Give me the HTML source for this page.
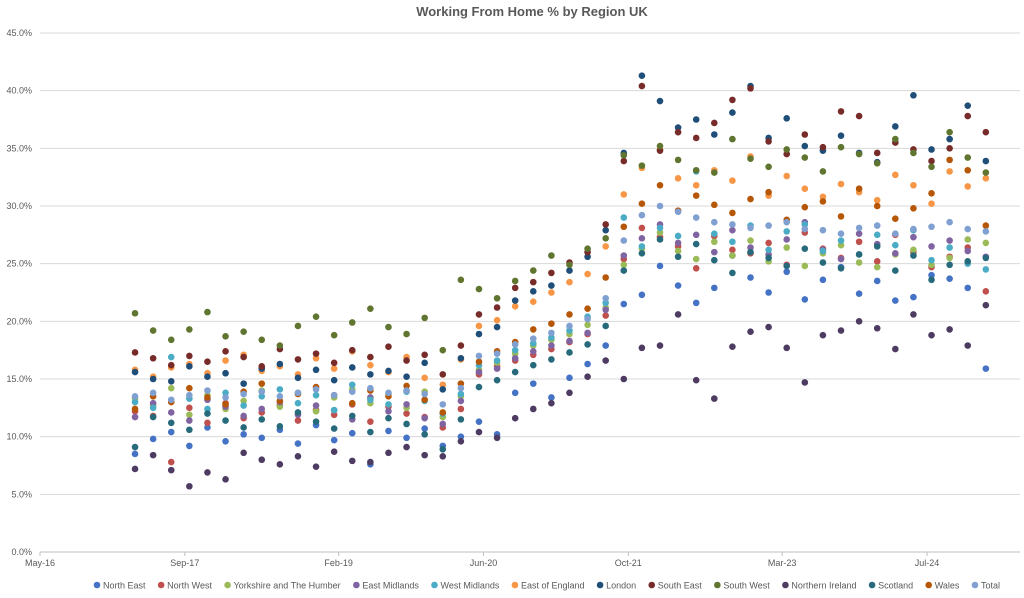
<!DOCTYPE html>
<html><head><meta charset="utf-8"><style>
body{margin:0;background:#fff;font-family:"Liberation Sans",sans-serif;}
svg text{font-family:"Liberation Sans",sans-serif;}
</style></head><body>
<svg id="chart" width="1024" height="593" xmlns="http://www.w3.org/2000/svg">
<text x="532" y="16" text-anchor="middle" font-size="13" font-weight="bold" fill="#595959">Working From Home % by Region UK</text>
<g id="grid"></g>
<g id="yaxis"></g>
<g id="xaxis"></g>
<g id="marks"></g>
<g id="legend"></g>
</svg>
<script>
const yTicks=[0,5,10,15,20,25,30,35,40,45];
const xTickLabels=["May-16","Sep-17","Feb-19","Jun-20","Oct-21","Mar-23","Jul-24"];
const xTickMonths=[0,16,33,49,65,82,98];
const startMonth=10.5, stepMonths=2;
const seriesNames=["North East","North West","Yorkshire and The Humber","East Midlands","West Midlands","East of England","London","South East","South West","Northern Ireland","Scotland","Wales","Total"];
const seriesColors=["#4472C4","#C0504D","#9BBB59","#8064A2","#4BACC6","#F79646","#1F4E79","#772C2A","#5F7530","#4D3B62","#276A7C","#B65708","#7FA0D0"];
const northEast=[8.5,9.8,10.4,9.2,10.8,9.6,10.2,9.9,10.6,9.4,11.0,9.7,10.3,7.6,10.5,9.9,10.7,9.2,10.0,11.3,10.2,13.8,14.6,13.4,15.1,16.3,17.9,21.5,22.3,24.8,23.1,21.6,22.9,25.7,23.8,22.5,24.3,21.9,23.6,24.7,22.4,23.5,21.8,22.1,24.0,23.7,22.9,15.9];
const northWest=[12.2,11.8,7.8,12.5,11.2,12.9,11.6,12.1,12.7,11.4,12.3,11.9,12.8,11.3,12.6,12.0,11.7,10.8,12.4,15.4,16.1,16.6,17.1,17.6,18.2,18.9,20.5,25.4,28.1,27.3,26.5,24.6,27.4,26.2,25.9,26.8,24.9,27.7,26.3,25.5,26.9,25.2,27.5,26.0,24.7,25.6,26.4,22.6];
const yorkshire=[13.3,12.7,14.2,11.9,13.6,12.4,13.1,14.0,12.6,13.8,12.2,13.4,14.1,12.9,13.7,12.5,13.9,11.7,13.5,15.8,16.4,17.2,17.9,18.4,18.9,19.7,21.2,24.9,26.3,27.7,26.1,25.4,26.9,25.7,27.0,25.2,26.4,24.8,25.9,26.6,25.1,24.7,25.8,26.2,24.9,25.5,27.1,26.8];
const eastMidlands=[11.7,12.9,12.1,11.4,13.2,12.6,11.8,12.4,13.0,11.9,12.7,12.3,11.5,13.4,12.2,12.8,11.6,11.1,13.1,15.6,15.9,16.8,17.4,17.9,18.3,19.0,21.0,25.7,27.2,28.4,26.8,27.5,26.0,27.9,26.4,25.8,27.1,28.6,26.2,25.4,27.6,26.7,25.9,27.3,26.5,27.0,26.1,25.6];
const westMidlands=[13.0,12.5,16.9,13.3,12.4,13.8,12.7,13.5,14.1,12.9,13.6,12.3,14.5,13.2,12.8,13.9,13.1,12.0,13.7,16.2,16.6,17.5,18.1,18.6,19.2,20.4,21.6,29.0,26.5,28.1,27.4,33.0,27.6,26.9,28.3,26.2,27.8,28.4,26.1,27.0,25.8,27.5,26.6,27.9,25.3,26.4,25.0,24.5];
const eastOfEngland=[15.8,15.2,16.0,16.3,15.5,16.6,17.1,15.7,16.1,15.4,16.8,15.9,17.4,16.2,15.6,16.9,15.1,14.5,16.7,19.6,20.1,21.3,21.7,22.5,23.4,24.1,26.5,31.0,33.3,34.9,32.4,31.8,33.1,32.2,34.3,30.9,32.6,31.5,30.8,31.9,31.2,30.5,32.7,31.8,30.2,33.0,31.7,32.4];
const london=[15.6,15.0,14.8,16.1,15.2,15.5,14.6,15.9,16.3,15.1,15.8,14.9,16.0,15.4,15.7,15.2,16.4,14.1,16.8,18.9,19.5,21.8,22.6,23.1,24.4,25.6,27.9,34.6,41.3,39.1,36.8,37.5,36.2,38.1,40.4,35.9,37.6,35.2,34.8,36.1,34.6,33.8,36.9,39.6,34.9,35.8,38.7,33.9];
const southEast=[17.3,16.8,16.2,17.0,16.5,17.4,16.9,16.1,17.6,16.7,17.2,16.4,17.5,16.9,17.8,16.6,17.1,15.4,17.9,20.6,21.2,22.9,23.4,24.2,25.1,26.0,28.4,33.9,40.4,34.8,36.4,35.9,37.2,39.2,40.2,35.6,34.5,36.2,35.1,38.2,37.8,34.6,35.5,34.9,33.9,35.0,37.8,36.4];
const southWest=[20.7,19.2,18.4,19.3,20.8,18.7,19.1,18.4,17.9,19.6,20.4,18.8,19.9,21.1,19.5,18.9,20.3,17.5,23.6,22.8,22.0,23.5,24.4,25.7,24.9,26.3,27.2,34.4,33.5,35.2,34.0,33.1,32.9,35.8,34.1,33.4,34.9,34.2,33.0,35.1,34.5,33.7,35.8,34.6,33.4,36.4,34.2,32.9];
const northernIreland=[7.2,8.4,7.1,5.7,6.9,6.3,8.6,8.0,7.6,8.3,7.4,8.7,7.9,7.8,8.6,9.1,8.4,8.3,9.6,10.4,9.9,11.6,12.4,12.9,13.8,15.2,16.6,15.0,17.7,17.9,20.6,14.9,13.3,17.8,19.1,19.5,17.7,14.7,18.8,19.2,20.0,19.4,17.6,20.6,18.8,19.3,17.9,21.4];
const scotland=[9.1,11.7,11.2,10.6,12.0,11.4,10.8,11.5,10.9,12.1,11.3,10.7,11.8,10.4,11.6,11.1,10.2,8.9,11.5,14.3,14.9,15.6,16.2,16.7,17.3,18.0,19.6,24.4,25.9,27.1,25.6,26.7,25.3,24.2,26.0,25.5,24.8,26.3,25.1,24.6,25.8,26.5,24.4,25.7,23.6,24.9,25.2,25.5];
const wales=[12.4,13.5,13.0,14.2,13.4,12.8,13.9,14.6,13.1,13.7,14.3,13.6,12.9,14.0,13.5,14.4,13.2,12.1,14.6,16.5,17.4,18.2,19.3,19.8,20.6,21.1,23.8,28.2,30.2,31.8,29.6,30.9,30.1,29.4,30.6,31.2,28.8,29.9,30.4,29.1,31.5,30.0,28.9,29.8,31.1,34.0,33.1,28.3];
const total=[13.5,13.8,13.2,13.6,14.0,13.4,13.7,13.9,13.5,13.8,14.1,13.6,13.9,14.2,13.8,14.0,13.7,12.8,14.2,17.0,17.2,18.0,18.5,19.0,19.6,20.2,22.0,27.0,29.2,30.0,29.5,29.0,28.6,28.4,28.1,28.3,28.6,28.0,27.9,27.6,28.1,28.3,27.6,28.0,28.2,28.6,28.0,27.8];
const seriesValues=[northEast,northWest,yorkshire,eastMidlands,westMidlands,eastOfEngland,london,southEast,southWest,northernIreland,scotland,wales,total];

const NS="http://www.w3.org/2000/svg";
const X0=40,X1=1020,Y0=552,Y1=33;
const xScale=m=>X0+m*(927-40)/98;
const yScale=v=>Y0-(v/45)*(Y0-Y1);
function mk(tag,attrs,parent){const e=document.createElementNS(NS,tag);for(const k in attrs)e.setAttribute(k,attrs[k]);parent.appendChild(e);return e;}
const grid=document.getElementById('grid'),yax=document.getElementById('yaxis'),xax=document.getElementById('xaxis'),marks=document.getElementById('marks'),leg=document.getElementById('legend');
yTicks.forEach(t=>{
  const l=mk('line',{x1:X0,x2:X1,y1:yScale(t),y2:yScale(t),stroke:t===0?'#bfbfbf':'#d9d9d9','stroke-width':1},grid);
  
  
  const tx=mk('text',{x:32,y:yScale(t)+3,'text-anchor':'end','font-size':9,fill:'#595959'},yax);
  tx.textContent=t.toFixed(1)+'%';
  
  
});
xTickLabels.forEach((lab,i)=>{
  const x=xScale(xTickMonths[i]);
  const tk=mk('line',{x1:x,x2:x,y1:Y0,y2:Y0+4,stroke:'#bfbfbf'},xax);
  
  
  const tx=mk('text',{x:x,y:566,'text-anchor':'middle','font-size':9,fill:'#595959'},xax);
  tx.textContent=lab;
  
  
});
seriesValues.forEach((vals,s)=>{
  const g=mk('g',{},marks);
  
  
  vals.forEach((v,i)=>{
    const c=mk('circle',{cx:xScale(startMonth+i*stepMonths),cy:yScale(v),r:3.3,fill:seriesColors[s]},g);
    
    
  });
});
let lx=93;
const items=[];
seriesNames.forEach((n,s)=>{
  const g=mk('g',{},leg);
  
  
  mk('circle',{cx:lx+4,cy:585,r:3.3,fill:seriesColors[s]},g);
  const t=mk('text',{x:lx+10,y:588.5,'font-size':9,fill:'#595959'},g);
  t.textContent=n;
  lx+=10+t.getComputedTextLength()+8;
});
const extra=(1008-lx);
if(extra!==0){
  const gs=leg.children;
  for(let i=0;i<gs.length;i++){gs[i].setAttribute('transform','translate('+(extra*i/(gs.length-1)).toFixed(1)+',0)');}
}
</script>
</body></html>
